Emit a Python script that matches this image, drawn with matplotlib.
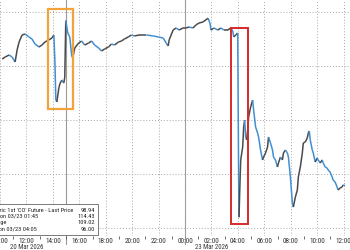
import numpy as np
import matplotlib
matplotlib.use("Agg")
import matplotlib.pyplot as plt
from matplotlib.collections import LineCollection
from matplotlib.patches import Rectangle
from matplotlib import font_manager

# ---------------- data (axis hours: 0 = 20 Mar 10:00, 14 = 23 Mar 00:00) ----------------
hours = [0.165, 0.391, 0.692, 0.917, 1.143, 1.293, 1.444, 1.669, 1.895, 2.195,
         2.421, 2.647, 2.947, 3.173, 3.398, 3.699, 3.925, 4.075, 4.150, 4.226,
         4.301, 4.451, 4.526, 4.677, 4.827, 4.902, 4.977, 5.128, 5.278, 5.429,
         5.504, 5.654, 5.955, 6.180, 6.406, 6.707, 6.932, 7.158, 7.459, 7.684,
         7.910, 8.211, 8.436, 8.662, 8.962, 9.188, 9.414, 9.714, 9.940, 10.165,
         10.541, 11.068, 11.594, 11.970, 12.346, 12.571, 12.722, 12.797, 13.098, 13.323,
         13.549, 13.850, 14.075, 14.301, 14.602, 14.827, 15.053, 15.353, 15.750, 15.900,
         15.955, 16.180, 16.481, 16.707, 16.932, 17.233, 17.459, 17.609, 17.684, 17.835,
         17.985, 18.060, 18.083, 18.135, 18.211, 18.361, 18.436, 18.511, 18.587, 18.662,
         18.737, 18.812, 18.962, 19.113, 19.188, 19.338, 19.489, 19.564, 19.714, 19.865,
         19.940, 20.090, 20.241, 20.316, 20.466, 20.617, 20.692, 20.842, 20.992, 21.068,
         21.218, 21.368, 21.444, 21.594, 21.744, 21.820, 21.970, 22.120, 22.195, 22.346,
         22.496, 22.571, 22.722, 22.872, 22.947, 23.098, 23.248, 23.323, 23.398, 23.474,
         23.624, 23.699, 23.850, 24.000, 24.075, 24.226, 24.376, 24.451, 24.602, 24.752,
         24.827, 24.977, 25.128, 25.203, 25.353, 25.504, 25.579, 25.729, 25.880, 25.955,
         26.105]
price = [110.65, 110.83, 111.02, 110.83, 110.37, 111.48, 112.22, 112.87, 112.96, 112.69,
         112.50, 112.04, 111.76, 111.94, 112.22, 112.41, 112.59, 112.87, 110.55, 106.85,
         106.67, 107.96, 108.33, 108.70, 108.42, 108.98, 114.20, 113.05, 112.69, 110.92,
         110.74, 111.67, 112.13, 112.31, 111.94, 112.13, 112.31, 111.94, 111.67, 111.39,
         111.57, 111.76, 112.04, 111.94, 112.22, 112.31, 112.50, 112.69, 112.87, 112.78,
         112.87, 112.87, 112.78, 112.69, 112.59, 112.13, 111.85, 112.41, 113.33, 113.52,
         113.33, 113.52, 113.52, 113.61, 113.52, 113.80, 113.98, 114.07, 114.43, 113.89,
         113.33, 113.52, 113.33, 113.52, 113.33, 113.33, 113.52, 113.24, 112.69, 112.87,
         113.05, 98.52, 96.00, 98.33, 101.30, 102.50, 104.35, 105.00, 103.43, 103.15,
         104.07, 105.28, 106.20, 106.85, 105.93, 104.35, 103.79, 103.43, 102.22, 101.30,
         101.57, 101.94, 102.50, 103.43, 102.87, 102.22, 101.57, 101.30, 100.65, 101.02,
         101.57, 101.30, 101.94, 102.22, 101.94, 101.57, 99.72, 97.31, 96.94, 97.87,
         98.52, 99.72, 100.65, 101.94, 102.87, 102.96, 103.33, 103.79, 103.98, 103.15,
         102.22, 101.94, 101.11, 101.48, 101.30, 101.02, 101.30, 101.02, 100.65, 100.55,
         100.37, 100.18, 99.72, 99.44, 99.26, 98.80, 98.52, 98.70, 98.80, 98.98,
         98.94]

tick_hours = list(range(0, 27, 2))
tick_labels = ["10:00", "12:00", "14:00", "16:00", "18:00", "20:00", "22:00",
               "00:00", "02:00", "04:00", "06:00", "08:00", "10:00", "12:00"]
grid_prices = [95, 100, 105, 110, 115]
day_breaks = [5, 14]
date_labels = ["20 Mar 2026", "23 Mar 2026"]
date_label_hours = [2.0, 16.0]
legend_labels = ["Generic 1st 'CO' Future - Last Price", "High on 03/23 01:45",
                 "Average", "Low on 03/23 04:05"]
legend_values = ["98.94", "114.43", "109.02", "96.00"]

# highlight boxes (hours_start, hours_end, price_low, price_high)
orange_box = (3.60, 5.56, 106.02, 115.25)
red_box = (17.46, 18.74, 95.37, 113.52)

# ---------------- fonts ----------------
avail = {f.name for f in font_manager.fontManager.ttflist}
fams = [f for f in ["Liberation Sans Narrow", "Roboto Condensed", "DejaVu Sans Condensed",
                    "Liberation Sans", "DejaVu Sans"] if f in avail]
plt.rcParams["font.family"] = fams

# ---------------- figure ----------------
fig = plt.figure(figsize=(3.5, 2.5), dpi=100)
fig.patch.set_facecolor("white")
ax = fig.add_axes([0, 14 / 250, 1, 236 / 250])
ax.set_xlim(0.165, 26.48)
ax.set_ylim(94.26, 116.11)

for s in ax.spines.values():
    s.set_visible(False)

dot = (0, (1, 2))
ax.set_yticks(grid_prices)
ax.set_xticks(tick_hours)
ax.set_xticklabels(tick_labels)
ax.set_xticks(np.arange(1, 27, 2), minor=True)
ax.grid(True, which="major", color="#a8a8a8", linestyle=dot, linewidth=0.7)
ax.tick_params(axis="y", left=False, labelleft=False)
ax.tick_params(axis="x", which="major", length=0, labelsize=5.2, pad=1.5, colors="#333333")
ax.tick_params(axis="x", which="minor", length=1.8, width=0.6, color="#555555", direction="out")

for b in day_breaks:
    ax.axvline(b, ymin=-0.035, ymax=1, color="#9a9a9a", lw=0.8, clip_on=False, zorder=1)

for lab, hx in zip(date_labels, date_label_hours):
    ax.text(hx, -0.033, lab, transform=ax.get_xaxis_transform(), ha="center", va="top",
            fontsize=4.9, color="#333333")

# series: falling segments blue, rising segments dark grey
x = np.asarray(hours)
y = np.asarray(price)
segs = np.stack([np.column_stack([x[:-1], y[:-1]]), np.column_stack([x[1:], y[1:]])], axis=1)
cols = ["#3f8fd2" if y[i + 1] < y[i] else "#4a4a4a" for i in range(len(y) - 1)]
lc = LineCollection(segs, colors=cols, linewidths=1.1, zorder=3)
ax.add_collection(lc)

ax.add_patch(Rectangle((orange_box[0], orange_box[2]), orange_box[1] - orange_box[0],
                       orange_box[3] - orange_box[2], fill=False, edgecolor="#f2a33a",
                       linewidth=1.6, zorder=4))
ax.add_patch(Rectangle((red_box[0], red_box[2]), red_box[1] - red_box[0],
                       red_box[3] - red_box[2], fill=False, edgecolor="#d42a2a",
                       linewidth=1.4, zorder=4))

# legend box (cropped at left edge)
ax.add_patch(Rectangle((-0.02, 0.004), 0.02 + 98 / 350, 0.1315, transform=ax.transAxes,
                       facecolor="white", edgecolor="#7a7a7a", linewidth=0.7, zorder=6,
                       clip_on=False))
rows_y = [0.108, 0.083, 0.057, 0.028]
for lab, val, ry in zip(legend_labels, legend_values, rows_y):
    ax.text(-0.038, ry, lab, transform=ax.transAxes, ha="left", va="center",
            fontsize=4.6, color="#222222", zorder=7)
    ax.text(95 / 350, ry, val, transform=ax.transAxes, ha="right", va="center",
            fontsize=4.6, color="#222222", zorder=7)

fig.savefig("out.png", dpi=100, facecolor="white")
